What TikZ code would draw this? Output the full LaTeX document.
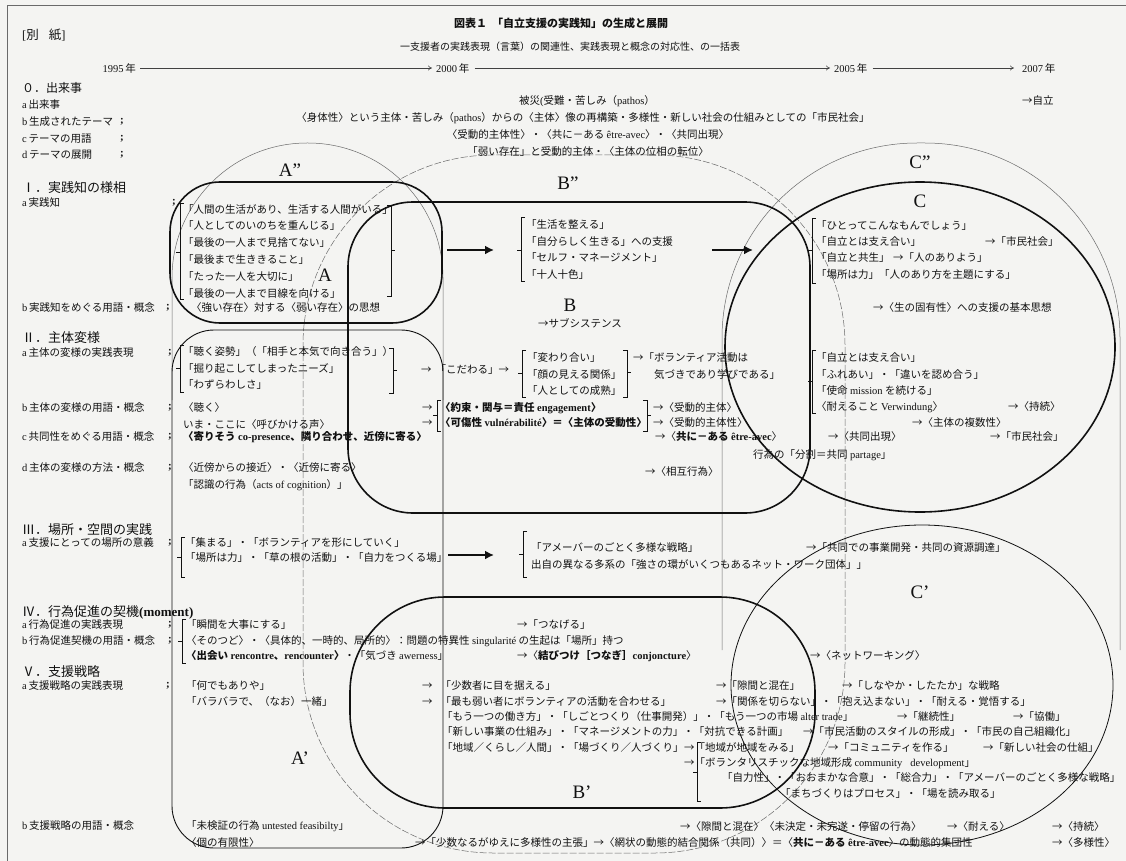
\documentclass[tikz,border=0pt]{standalone}
\usepackage{fontspec}
\setmainfont{Noto Sans CJK JP}
\newfontfamily\en{Liberation Serif}
\usetikzlibrary{arrows.meta}
\newcommand{\LT}[1]{{\en #1}}
\definecolor{bg}{HTML}{F4F4F2}
\definecolor{ink}{HTML}{111111}
\definecolor{faint}{HTML}{6A6A6A}
\newcommand{\LBk}[4]{\draw[brk] ({#1+4},#2) -- (#1,#2) -- (#1,#3) -- ({#1+4},#3); \draw[brk] (#1,#4) -- ({#1-4},#4);}
\newcommand{\RBk}[4]{\draw[brk] ({#1-4},#2) -- (#1,#2) -- (#1,#3) -- ({#1-4},#3); \draw[brk] (#1,#4) -- ({#1+4},#4);}
\begin{document}
\begin{tikzpicture}[x=1pt,y=-1pt,
  every node/.style={inner sep=0pt, text=ink},
  tx/.style={anchor=west, font=\fontsize{10.5}{12}\selectfont},
  lb/.style={anchor=west, font=\fontsize{10.5}{12}\selectfont},
  sc/.style={anchor=west, font=\en\bfseries\fontsize{11}{12}\selectfont},
  hd/.style={anchor=west, font=\fontsize{13}{15}\selectfont},
  ctx/.style={anchor=center, font=\fontsize{10.5}{12}\selectfont},
  big/.style={anchor=center, font=\en\fontsize{19}{20}\selectfont},
  thickbox/.style={draw=ink, line width=1.6pt},
  midbox/.style={draw=ink, line width=0.9pt},
  thinbox/.style={draw=faint, line width=0.5pt},
  dashbox/.style={draw=faint, line width=0.5pt, dash pattern=on 7pt off 2pt},
  brk/.style={draw=ink, line width=0.5pt},
  bigarrow/.style={draw=ink, line width=2.4pt, -{Latex[length=9pt,width=9pt]}},
  tl/.style={draw=ink!80, line width=0.6pt, -{To[length=4pt,width=5pt]}}
]
\fill[bg] (0,0) rectangle (1126,861);
\useasboundingbox (0,0) rectangle (1126,861);
\draw[draw=faint, line width=0.8pt] (1126,5) -- (7,5) -- (7,861);

% ---------- shapes ----------
\draw[thinbox, rounded corners=135pt] (172,400) -- (172,143) -- (443,143) -- (443,400);
\draw[dashbox, rounded corners=190pt] (303,155) rectangle (845,853);
\draw[thinbox, rounded corners=195pt] (722,650) -- (722,143) -- (1120,143) -- (1120,650);
\draw[midbox, rounded corners=42pt] (172,330) rectangle (443,848);
\draw[thickbox, rounded corners=50pt] (170,182) rectangle (442,323);
\draw[thickbox, rounded corners=65pt] (348,202) rectangle (810,513);
\draw[thickbox] (920,347) ellipse [x radius=195, y radius=165];
\draw[thickbox, rounded corners=95pt] (350,597) rectangle (815,808);
\draw[midbox, line width=0.8pt] (922,685) ellipse [x radius=191, y radius=160];

% ---------- header ----------
\node[anchor=west, font=\fontsize{12.5}{14}\selectfont] (bessi) at (22,35) {\LT{[}別\hspace{10pt}紙\LT{]}};
\node[font=\bfseries\fontsize{11}{13}\selectfont] (title) at (561,23) {図表１\hspace{5pt}「自立支援の実践知」の生成と展開};
\node[font=\fontsize{10}{12}\selectfont] (subt) at (570,47) {一支援者の実践表現（言葉）の関連性、実践表現と概念の対応性、の一括表};

% ---------- timeline ----------
\node[anchor=east, font=\fontsize{10.5}{12}\selectfont] (y95) at (136,68) {\LT{1995}\,年};
\node[tx] (y00) at (436,68) {\LT{2000}\,年};
\node[tx] (y05) at (834,68) {\LT{2005}\,年};
\node[tx] (y07) at (1022,68) {\LT{2007}\,年};
\draw[tl] ([xshift=4pt]y95.east) -- ([xshift=-4pt]y00.west);
\draw[tl] ([xshift=5pt]y00.east) -- ([xshift=-4pt]y05.west);
\draw[tl] ([xshift=5pt]y05.east) -- ([xshift=-8pt]y07.west);

% ---------- section 0 ----------
\node[anchor=west, font=\fontsize{12}{14}\selectfont] (s0) at (22,88) {０．出来事};
\node[lb] (s0a) at (22,105) {\LT{a}\,出来事};
\node[lb] (s0b) at (22,122) {\LT{b}\,生成されたテーマ};
\node[lb] (s0c) at (22,139) {\LT{c}\,テーマの用語};
\node[lb] (s0d) at (22,155) {\LT{d}\,テーマの展開};
\node[sc] (q0b) at (120,122) {;};
\node[sc] (q0c) at (120,139) {;};
\node[sc] (q0d) at (120,155) {;};
\node[ctx] (e1) at (587,101) {被災\LT{(}受難・苦しみ（\LT{pathos}）};
\node[tx] (e2) at (1022,101) {→自立};
\node[ctx] (e3) at (583,118) {〈身体性〉という主体・苦しみ（\LT{pathos}）からの〈主体〉像の再構築・多様性・新しい社会の仕組みとしての「市民社会」};
\node[ctx] (e4) at (588,135) {〈受動的主体性〉・〈共に－ある \LT{être-avec}〉・〈共同出現〉};
\node[ctx] (e5) at (588,152) {「弱い存在」と受動的主体・〈主体の位相の転位〉};

% ---------- region labels ----------
\node[big] (lAa) at (290,170) {A”};
\node[big] (lBb) at (568,183) {B”};
\node[big] (lCc) at (920,162) {C”};
\node[big] (lC) at (920,201) {C};
\node[big] (lA) at (325,275) {A};
\node[big] (lB) at (570,305) {B};
\node[big] (lCp) at (920,592) {C’};
\node[big] (lAp) at (300,758) {A’};
\node[big] (lBp) at (582,792) {B’};

% ---------- section I ----------
\node[hd] (s1) at (22,188) {Ⅰ．実践知の様相};
\node[lb] (s1a) at (22,203) {\LT{a}\,実践知};
\node[sc] (q1a) at (172,203) {;};
\LBk{180}{203}{299}{252}
\node[tx] (i1) at (183,210) {「人間の生活があり、生活する人間がいる」};
\node[tx] (i2) at (183,226) {「人としてのいのちを重んじる」};
\node[tx] (i3) at (183,243) {「最後の一人まで見捨てない」};
\node[tx] (i4) at (183,260) {「最後まで生ききること」};
\node[tx] (i5) at (183,277) {「たった一人を大切に」};
\node[tx] (i6) at (183,294) {「最後の一人まで目線を向ける」};
\RBk{391}{205}{296}{250}
\coordinate (ta1s) at (447,250);
\coordinate (ta1e) at (494,250);
\draw[bigarrow] (ta1s) -- (ta1e);
\LBk{521}{217}{281}{250}
\node[tx] (ib1) at (526,225) {「生活を整える」};
\node[tx] (ib2) at (526,242) {「自分らしく生きる」への支援};
\node[tx] (ib3) at (526,258) {「セルフ・マネージメント」};
\node[tx] (ib4) at (526,275) {「十人十色」};
\node[ctx] (ib5) at (580,323) {→サブシステンス};
\coordinate (ta2s) at (712,250);
\coordinate (ta2e) at (753,250);
\draw[bigarrow] (ta2s) -- (ta2e);
\LBk{812}{218}{283}{250}
\node[tx] (ic1) at (816,226) {「ひとってこんなもんでしょう」};
\node[tx] (ic2) at (816,242) {「自立とは支え合い」};
\node[tx] (ic2b) at (985,242) {→「市民社会」};
\node[tx] (ic3) at (816,258) {「自立と共生」};
\node[tx] (ic3b) at (893,258) {→「人のありよう」};
\node[tx] (ic4) at (816,275) {「場所は力」「人のあり方を主題にする」};
\node[lb] (s1b) at (22,308) {\LT{b}\,実践知をめぐる用語・概念};
\node[sc] (q1b) at (166,308) {;};
\node[tx] (i7) at (191,308) {〈強い存在〉対する〈弱い存在〉の思想};
\node[tx] (i8) at (873,308) {→〈生の固有性〉への支援の基本思想};

% ---------- section II ----------
\node[hd] (s2) at (22,338) {Ⅱ．主体変様};
\node[lb] (s2a) at (22,353) {\LT{a}\,主体の変様の実践表現};
\node[sc] (q2a) at (168,353) {;};
\LBk{180}{345}{392}{368}
\node[tx] (ii1) at (183,352) {「聴く姿勢」（「相手と本気で向き合う」）};
\node[tx] (ii2) at (183,369) {「掘り起こしてしまったニーズ」};
\node[tx] (ii3) at (183,385) {「わずらわしさ」};
\RBk{393}{348}{393}{370}
\node[tx] (ii4) at (421,370) {→\hspace{4pt}「こだわる」→};
\LBk{522}{350}{397}{373}
\node[tx] (ii5) at (527,358) {「変わり合い」};
\node[tx] (ii6) at (527,375) {「顔の見える関係」};
\node[tx] (ii7) at (527,391) {「人としての成熟」};
\RBk{627}{350}{397}{372}
\node[tx] (ii8) at (633,358) {→「ボランティア活動は};
\node[tx] (ii9) at (654,375) {気づきであり学びである」};
\LBk{812}{350}{413}{381}
\node[tx] (ii10) at (816,358) {「自立とは支え合い」};
\node[tx] (ii11) at (816,375) {「ふれあい」・「違いを認め合う」};
\node[tx] (ii12) at (816,391) {「使命 \LT{mission} を続ける」};
\node[tx] (ii13) at (816,407) {〈耐えること \LT{Verwindung}〉};
\node[tx] (ii14) at (1008,407) {→〈持続〉};
\node[tx] (ii15) at (912,423) {→〈主体の複数性〉};
\node[lb] (s2b) at (22,408) {\LT{b}\,主体の変様の用語・概念};
\node[sc] (q2b) at (168,408) {;};
\node[tx] (ii16) at (183,408) {〈聴く〉};
\node[tx] (ii17) at (183,425) {いま・ここに〈呼びかける声〉};
\node[tx] (ii18) at (422,408) {→};
\node[tx] (ii20) at (422,423) {→};
\LBk{437}{400}{431}{415}
\node[tx, font=\bfseries\fontsize{10.5}{12}\selectfont] (ii19) at (440,408) {〈約束・関与＝責任 \LT{engagement}〉};
\node[tx, font=\bfseries\fontsize{10.5}{12}\selectfont] (ii21) at (440,423) {〈可傷性 \LT{vulnérabilité}〉＝〈主体の受動性〉};
\RBk{647}{400}{431}{415}
\node[tx] (ii22) at (653,408) {→〈受動的主体〉};
\node[tx] (ii23) at (653,423) {→〈受動的主体性〉};
\node[lb] (s2c) at (22,437) {\LT{c}\,共同性をめぐる用語・概念};
\node[sc] (q2c) at (168,437) {;};
\node[tx, font=\bfseries\fontsize{10.5}{12}\selectfont] (ii24) at (183,437) {〈寄りそう \LT{co-presence}、隣り合わせ、近傍に寄る〉};
\node[tx] (ii25) at (655,437) {→〈\textbf{共に－ある \LT{être-avec}}〉};
\node[tx] (ii26) at (828,437) {→〈共同出現〉};
\node[tx] (ii27) at (990,437) {→「市民社会」};
\node[tx] (ii28) at (753,455) {行為の「分割＝共同 \LT{partage}」};
\node[lb] (s2d) at (22,468) {\LT{d}\,主体の変様の方法・概念};
\node[sc] (q2d) at (168,468) {;};
\node[tx] (ii29) at (183,468) {〈近傍からの接近〉・〈近傍に寄る〉};
\node[tx] (ii30) at (183,485) {「認識の行為（\LT{acts of cognition}）」};
\node[tx] (ii31) at (645,472) {→〈相互行為〉};

% ---------- section III ----------
\node[hd] (s3) at (22,530) {Ⅲ．場所・空間の実践};
\node[lb] (s3a) at (22,543) {\LT{a}\,支援にとっての場所の意義};
\node[sc] (q3a) at (168,543) {;};
\LBk{181}{537}{577}{557}
\node[tx] (iii1) at (185,543) {「集まる」・「ボランティアを形にしていく」};
\node[tx] (iii2) at (185,558) {「場所は力」・「草の根の活動」・「自力をつくる場」};
\coordinate (ta3s) at (448,555);
\coordinate (ta3e) at (494,555);
\draw[bigarrow] (ta3s) -- (ta3e);
\LBk{523}{531}{577}{554}
\node[tx] (iii3) at (531,548) {「アメーバーのごとく多様な戦略」};
\node[tx] (iii4) at (531,565) {出自の異なる多系の「強さの環がいくつもあるネット・ワーク団体」」};
\node[tx] (iii5) at (806,548) {→「共同での事業開発・共同の資源調達」};

% ---------- section IV ----------
\node[hd] (s4) at (22,612) {Ⅳ．行為促進の契機\LT{\bfseries (moment)}};
\node[lb] (s4a) at (22,625) {\LT{a}\,行為促進の実践表現};
\node[sc] (q4a) at (168,625) {;};
\node[lb] (s4b) at (22,641) {\LT{b}\,行為促進契機の用語・概念};
\node[sc] (q4b) at (168,641) {;};
\LBk{182}{619}{663}{641}
\node[tx] (iv1) at (186,625) {「瞬間を大事にする」};
\node[tx] (iv2) at (517,625) {→「つなげる」};
\node[tx] (iv3) at (186,641) {〈そのつど〉・〈具体的、一時的、局所的〉：問題の特異性 \LT{singularité} の生起は「場所」持つ};
\node[tx] (iv4) at (186,656) {\textbf{〈出会い \LT{rencontre}、\LT{rencounter}〉}・「気づき \LT{awerness}」};
\node[tx] (iv5) at (517,656) {→〈\textbf{結びつけ［つなぎ］\LT{conjoncture}}〉};
\node[tx] (iv6) at (810,656) {→〈ネットワーキング〉};

% ---------- section V ----------
\node[hd] (s5) at (22,672) {Ⅴ．支援戦略};
\node[lb] (s5a) at (22,686) {\LT{a}\,支援戦略の実践表現};
\node[sc] (q5a) at (166,686) {;};
\node[tx] (v1) at (186,686) {「何でもありや」};
\node[tx] (v2) at (186,702) {「バラバラで、（なお）一緒」};
\node[tx] (v3) at (422,686) {→\hspace{8pt}「少数者に目を据える」};
\node[tx] (v4) at (422,702) {→\hspace{8pt}「最も弱い者にボランティアの活動を合わせる」};
\node[tx] (v5) at (442,717) {「もう一つの働き方」・「しごとつくり（仕事開発）」・「もう一つの市場 \LT{alter trade}」};
\node[tx] (v6) at (442,732) {「新しい事業の仕組み」・「マネージメントの力」・「対抗できる計画」};
\node[tx] (v7) at (442,748) {「地域／くらし／人間」・「場づくり／人づくり」};
\LBk{697}{742}{801}{772}
\node[tx] (v8) at (684,748) {→「地域が地域をみる」};
\node[tx] (v9) at (684,763) {→「ボランタリスチックな地域形成 \LT{community\hspace{8pt}development}」};
\node[tx] (v10) at (722,778) {「自力性」・「おおまかな合意」・「総合力」・「アメーバーのごとく多様な戦略」};
\node[tx] (v11) at (780,794) {「まちづくりはプロセス」・「場を読み取る」};
\node[tx] (v12) at (716,686) {→「隙間と混在」};
\node[tx] (v13) at (842,686) {→「しなやか・したたか」な戦略};
\node[tx] (v14) at (716,702) {→「関係を切らない」・「抱え込まない」・「耐える・覚悟する」};
\node[tx] (v15) at (897,717) {→「継続性」};
\node[tx] (v16) at (1013,717) {→「協働」};
\node[tx] (v17) at (803,732) {→「市民活動のスタイルの形成」・「市民の自己組織化」};
\node[tx] (v18) at (828,748) {→「コミュニティを作る」};
\node[tx] (v19) at (983,748) {→「新しい社会の仕組」};
\node[lb] (s5b) at (22,826) {\LT{b}\,支援戦略の用語・概念};
\node[tx] (v20) at (186,826) {「未検証の行為 \LT{untested feasibilty}」};
\node[tx] (v21) at (186,842) {〈個の有限性〉};
\node[tx] (v22) at (680,826) {→〈隙間と混在〉〈未決定・未完遂・停留の行為〉};
\node[tx] (v23) at (947,826) {→〈耐える〉};
\node[tx] (v24) at (1052,826) {→〈持続〉};
\node[tx] (v25) at (415,842) {→「少数なるがゆえに多様性の主張」→〈網状の動態的結合関係（共同）〉＝〈\textbf{共に－ある \LT{être-avec}}〉の動態的集団性};
\node[tx] (v26) at (1052,842) {→〈多様性〉};
\end{tikzpicture}
\end{document}
